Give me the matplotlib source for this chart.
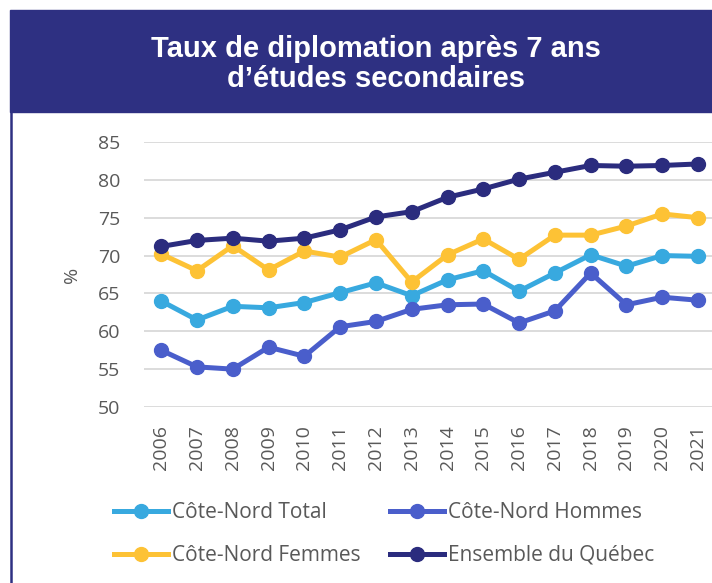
import matplotlib.pyplot as plt
from matplotlib.patches import Rectangle
from matplotlib.lines import Line2D

years = [2006, 2007, 2008, 2009, 2010, 2011, 2012, 2013,
         2014, 2015, 2016, 2017, 2018, 2019, 2020, 2021]
total = [64.0, 61.5, 63.3, 63.1, 63.8, 65.1, 66.4, 64.7,
         66.8, 68.0, 65.3, 67.7, 70.1, 68.6, 70.0, 69.9]
hommes = [57.5, 55.3, 55.0, 57.9, 56.7, 60.6, 61.3, 62.9,
          63.5, 63.6, 61.1, 62.7, 67.7, 63.5, 64.5, 64.1]
femmes = [70.2, 68.0, 71.3, 68.1, 70.6, 69.8, 72.1, 66.5,
          70.1, 72.2, 69.5, 72.7, 72.7, 73.9, 75.5, 75.0]
quebec = [71.2, 72.0, 72.3, 71.9, 72.3, 73.4, 75.1, 75.8,
          77.7, 78.8, 80.1, 81.0, 81.9, 81.8, 81.9, 82.1]

navy = '#2E3082'
colors = {'Côte-Nord Total': '#38A9DF',
          'Côte-Nord Hommes': '#4A5ECB',
          'Côte-Nord Femmes': '#FDC235',
          'Ensemble du Québec': '#2B2C7E'}
series = {'Côte-Nord Total': total,
          'Côte-Nord Hommes': hommes,
          'Côte-Nord Femmes': femmes,
          'Ensemble du Québec': quebec}

tick_font = 'Open Sans'
grey = '#595959'

fig = plt.figure(figsize=(7.12, 5.83), dpi=100)
W, H = 712, 583

# title banner and left border
fig.patches.append(Rectangle((10 / W, 1 - 112 / H), 702 / W, 102 / H,
                             transform=fig.transFigure, color=navy, zorder=0))
fig.lines.append(Line2D([11 / W, 11 / W], [0, 1 - 112 / H],
                        transform=fig.transFigure, color=navy, lw=1.8))
fig.text(376 / W, 1 - 64 / H, 'Taux de diplomation après 7 ans\nd’études secondaires',
         ha='center', va='center', color='white', fontsize=21, fontweight='bold',
         family='Liberation Sans', linespacing=1.1)

ax = fig.add_axes([144 / W, 1 - 407 / H, (712 - 144) / W, (407 - 142) / H])
for name, vals in series.items():
    ax.plot(years, vals, color=colors[name], lw=3.6, marker='o', ms=10,
            label=name, clip_on=False, zorder=3)

ax.set_ylim(50, 85)
ax.set_yticks(range(50, 90, 5))
ax.set_xlim(2005.52, 2021.39)
ax.set_xticks(years)
ax.set_xticklabels([str(y) for y in years], rotation=90)
ax.grid(axis='y', color='#D9D9D9', lw=1.3)
ax.set_axisbelow(True)
for s in ax.spines.values():
    s.set_visible(False)
ax.tick_params(length=0, labelcolor=grey, labelsize=14)
ax.tick_params(axis='y', pad=17)
ax.tick_params(axis='x', pad=13)
for lab in ax.get_xticklabels() + ax.get_yticklabels():
    lab.set_family(tick_font)
ax.set_ylabel('%', fontsize=14, color=grey, family=tick_font, labelpad=12)

h, l = ax.get_legend_handles_labels()
order = [0, 2, 1, 3]
fig.legend([h[i] for i in order], [l[i] for i in order], ncol=2,
           loc='center', bbox_to_anchor=(384 / W, 1 - 534 / H),
           frameon=False, prop={'family': tick_font, 'size': 15},
           labelcolor=grey, handlelength=2.6, handletextpad=0.2,
           columnspacing=1.4, labelspacing=1.05, borderpad=0)

fig.savefig('out.png', dpi=100)
